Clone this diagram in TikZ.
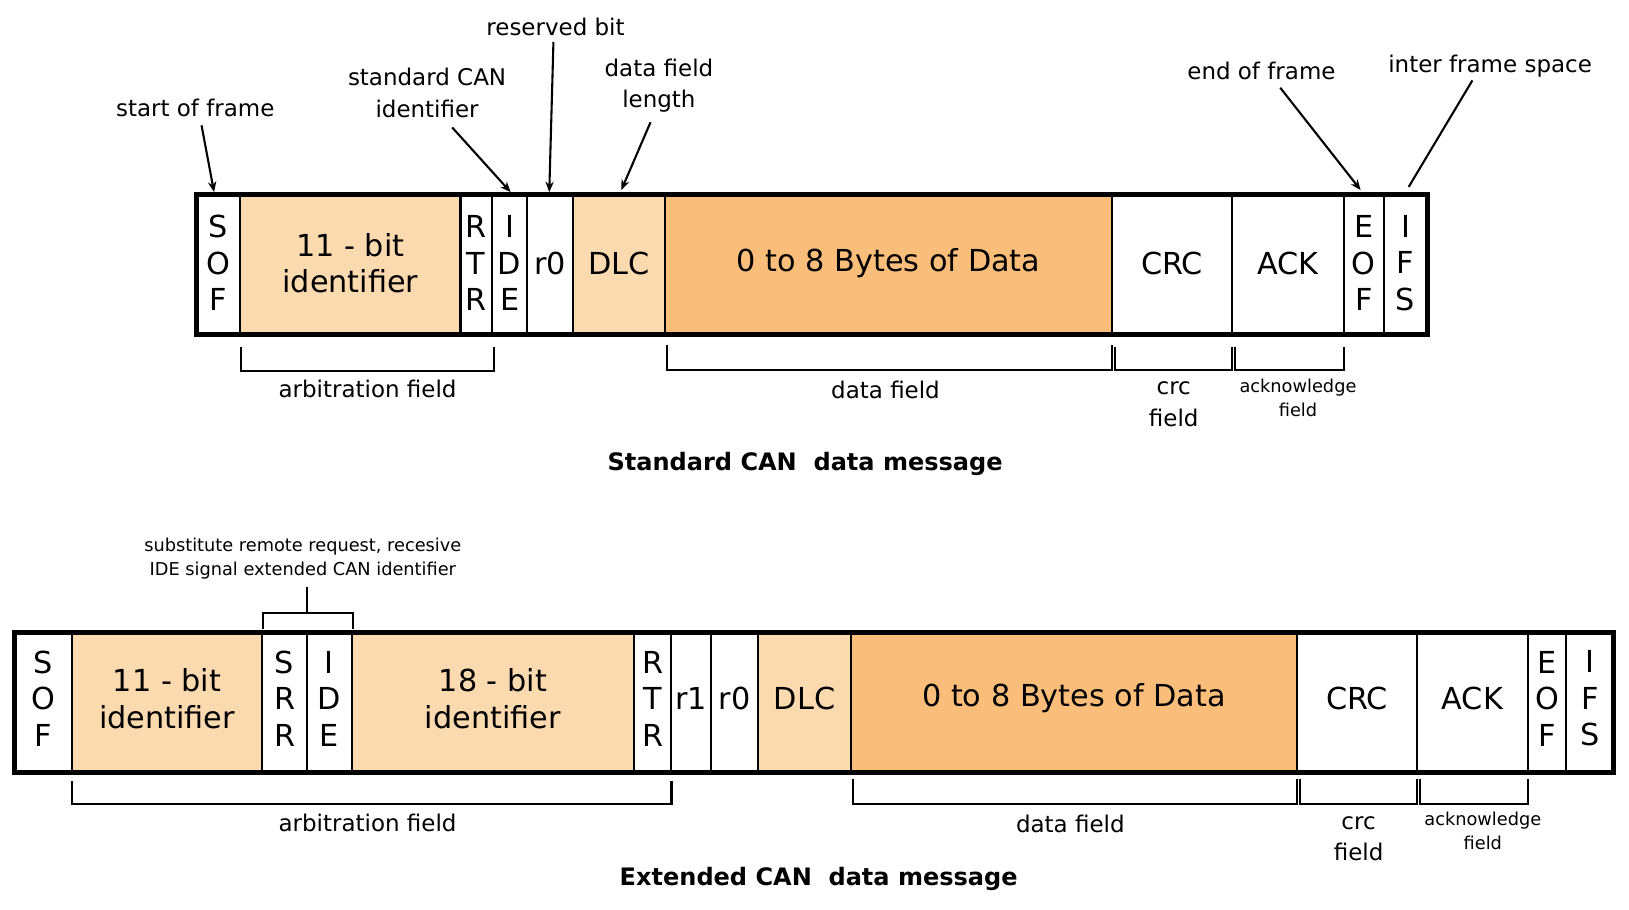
\documentclass[tikz,border=0pt]{standalone}
\usepackage{fontspec}
\setmainfont{DejaVu Sans}
\usetikzlibrary{arrows.meta}
\definecolor{lo}{RGB}{252,218,176}
\definecolor{do}{RGB}{250,190,122}
\begin{document}
\begin{tikzpicture}[x=1pt,y=-1pt,
  big/.style={font=\fontsize{29}{35}\selectfont,align=center,inner sep=0},
  ann/.style={font=\fontsize{22}{30}\selectfont,align=center,inner sep=0},
  sm/.style={font=\fontsize{17}{23}\selectfont,align=center,inner sep=0},
  ttl/.style={font=\fontsize{23}{28}\selectfont\bfseries,inner sep=0},
  arr/.style={line width=2pt,-{Stealth[length=10pt,width=8pt]}},
  brk/.style={line width=2.2pt},
  cellline/.style={line width=2pt},
  frame/.style={line width=5pt}]
\useasboundingbox (0,0) rectangle (1560,870.5);
% ---------- top frame ----------
\newcommand\cellT[5]{\fill[#4] (#2,186) rectangle (#3,320);
  \draw[cellline] (#2,186) -- (#2,320);
  \node[big] (#1) at ({(#2+#3)/2},252) {#5};}
\cellT{tsof}{188}{230}{white}{S\\O\\F}
\cellT{tid}{230}{441}{lo}{11 - bit\\identifier}
\cellT{trtr}{441}{471}{white}{R\\T\\R}
\cellT{tide}{471}{505}{white}{I\\D\\E}
\cellT{tr0}{505}{549}{white}{r0}
\cellT{tdlc}{549}{637}{lo}{DLC}
\cellT{tdata}{637}{1065}{do}{0 to 8 Bytes of Data}
\cellT{tcrc}{1065}{1180}{white}{CRC}
\cellT{tack}{1180}{1287}{white}{ACK}
\cellT{teof}{1287}{1325}{white}{E\\O\\F}
\cellT{tifs}{1325}{1367}{white}{I\\F\\S}
\draw[frame] (188,186) rectangle (1367,320);
% top annotations
\node[ann] (a1) at (187,103) {start of frame};
\coordinate (a1e) at (205,184);
\draw[arr] (193,120) -- (a1e);
\node[ann] (a2) at (409,89) {standard CAN\\identifier};
\coordinate (a2e) at (489,184);
\draw[arr] (433,122) -- (a2e);
\node[ann] (a3) at (532,26) {reserved bit};
\coordinate (a3e) at (526,184);
\draw[arr] (530,40) -- (a3e);
\node[ann] (a4) at (631,82) {data field\\length};
\coordinate (a4e) at (595,182);
\draw[arr] (623,117) -- (a4e);
\node[ann] (a5) at (1208,68) {end of frame};
\coordinate (a5e) at (1303,182);
\draw[arr] (1226,84) -- (a5e);
\node[ann] (a6) at (1427,63) {inter frame space};
\coordinate (a6e) at (1349,179);
\draw[line width=2pt] (1410,77) -- (a6e);
% top brackets
\draw[brk] (231,332) -- (231,355) -- (473,355) -- (473,332);
\node[ann] (b1) at (352,372) {arbitration field};
\draw[brk] (639,330) -- (639,354) -- (1065,354) -- (1065,330);
\node[ann] (b2) at (848,373) {data field};
\draw[brk] (1068,332) -- (1068,354) -- (1180,354) -- (1180,332);
\node[ann] (b3) at (1124,387) {crc\\field};
\draw[brk] (1183,332) -- (1183,354) -- (1287,354) -- (1287,332);
\node[sm] (b4) at (1243,381) {acknowledge\\field};
\node[ttl] (t1) at (771,444) {Standard CAN\ \ data message};
% ---------- bottom frame ----------
\newcommand\cellB[5]{\fill[#4] (#2,606) rectangle (#3,740);
  \draw[cellline] (#2,606) -- (#2,740);
  \node[big] (#1) at ({(#2+#3)/2},669) {#5};}
\cellB{bsof}{14}{69}{white}{S\\O\\F}
\cellB{bid}{69}{251}{lo}{11 - bit\\identifier}
\cellB{bsrr}{251}{294}{white}{S\\R\\R}
\cellB{bide}{294}{337}{white}{I\\D\\E}
\cellB{bid2}{337}{607}{lo}{18 - bit\\identifier}
\cellB{brtr}{607}{643}{white}{R\\T\\R}
\cellB{br1}{643}{681}{white}{r1}
\cellB{br0}{681}{726}{white}{r0}
\cellB{bdlc}{726}{815}{lo}{DLC}
\cellB{bdata}{815}{1242}{do}{0 to 8 Bytes of Data}
\cellB{bcrc}{1242}{1357}{white}{CRC}
\cellB{back}{1357}{1463}{white}{ACK}
\cellB{beof}{1463}{1500}{white}{E\\O\\F}
\cellB{bifs}{1500}{1545}{white}{I\\F\\S}
\draw[frame] (14,606) rectangle (1545,740);
% SRR/IDE bracket
\draw[line width=1.6pt] (252,602) -- (252,587) -- (338,587) -- (338,602);
\draw[line width=1.6pt] (294,587) -- (294,562);
\node[sm] (c1) at (290,535) {substitute remote request, recesive\\IDE signal extended CAN identifier};
% bottom brackets
\draw[brk] (69,748) -- (69,770) -- (643,770) -- (643,748);
\node[ann] (d1) at (352,788) {arbitration field};
\draw[brk] (817,746) -- (817,770) -- (1242,770) -- (1242,746);
\node[ann] (d2) at (1025,789) {data field};
\draw[brk] (1245,746) -- (1245,770) -- (1357,770) -- (1357,746);
\node[ann] (d3) at (1301,803) {crc\\field};
\draw[brk] (1360,746) -- (1360,770) -- (1463,770) -- (1463,746);
\node[sm] (d4) at (1420,796) {acknowledge\\field};
\node[ttl] (t2) at (784,842) {Extended CAN\ \ data message};
\end{tikzpicture}
\end{document}
